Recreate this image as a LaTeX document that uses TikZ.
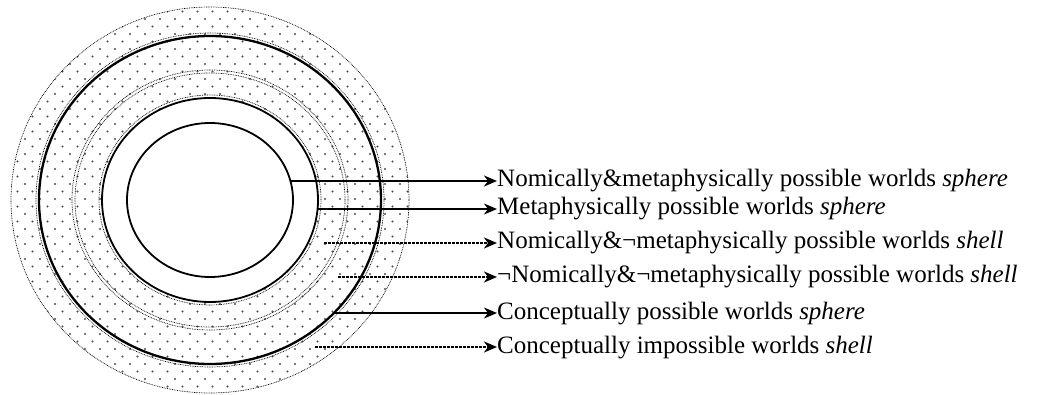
\documentclass[tikz,border=0pt]{standalone}
\usepackage{fontspec}
\setmainfont{Liberation Serif}
\usetikzlibrary{arrows.meta}
\begin{document}
\begin{tikzpicture}[x=1pt,y=1pt,
 solidring/.style={line width=1.8pt},
 thickring/.style={line width=2.3pt},
 dotring/.style={line width=0.7pt, dash pattern=on 0.8pt off 0.9pt},
 solidarrow/.style={line width=1.8pt, -{Stealth[length=13pt,width=11pt,inset=4pt]}},
 dotarrow/.style={line width=1.8pt, dash pattern=on 2.5pt off 1.5pt, -{Stealth[length=13pt,width=11pt,inset=4pt]}},
 lbl/.style={anchor=base west, inner sep=0pt, font=\fontsize{25}{30}\selectfont}]
\useasboundingbox (0,0) rectangle (1047,394);
\coordinate (c) at (210,194);
% dotted texture
\begin{scope}
\clip (c) ellipse [x radius=199, y radius=193];
\foreach \i in {0,...,27} \foreach \j in {0,...,53} {
  \fill[black!70] ({10+\i*15+mod(\j,2)*7.5},{\j*7.5}) circle (1.1);
}
\end{scope}
\fill[white] (c) ellipse [x radius=108, y radius=102];
% rings
\draw[dotring] (c) ellipse [x radius=199, y radius=193];
\draw[dotring] (c) ellipse [x radius=174, y radius=167];
\draw[thickring] (c) ellipse [x radius=171, y radius=164];
\draw[dotring] (c) ellipse [x radius=138, y radius=130];
\draw[dotring] (c) ellipse [x radius=135, y radius=127];
\draw[dotring] (c) ellipse [x radius=111, y radius=105];
\draw[solidring] (c) ellipse [x radius=108, y radius=102];
\draw[solidring] (c) ellipse [x radius=83, y radius=77];
% start points
\coordinate (s1) at (291,213);
\coordinate (s2) at (318,185);
\coordinate (s3) at (324,151);
\coordinate (s4) at (338,117);
\coordinate (s5) at (334,81);
\coordinate (s6) at (315,47);
% labels
\node[lbl] (t1) at (497,207) {Nomically\&metaphysically possible worlds \textit{sphere}};
\node[lbl] (t2) at (497,179) {Metaphysically possible worlds \textit{sphere}};
\node[lbl] (t3) at (497,145) {Nomically\&¬metaphysically possible worlds \textit{shell}};
\node[lbl] (t4) at (497,111) {¬Nomically\&¬metaphysically possible worlds \textit{shell}};
\node[lbl] (t5) at (497,75) {Conceptually possible worlds \textit{sphere}};
\node[lbl] (t6) at (497,41) {Conceptually impossible worlds \textit{shell}};
% connectors
\draw[solidarrow] (s1) -- (s1 -| t1.west);
\draw[solidarrow] (s2) -- (s2 -| t2.west);
\draw[dotarrow] (s3) -- (s3 -| t3.west);
\draw[dotarrow] (s4) -- (s4 -| t4.west);
\draw[solidarrow] (s5) -- (s5 -| t5.west);
\draw[dotarrow] (s6) -- (s6 -| t6.west);
\end{tikzpicture}
\end{document}
